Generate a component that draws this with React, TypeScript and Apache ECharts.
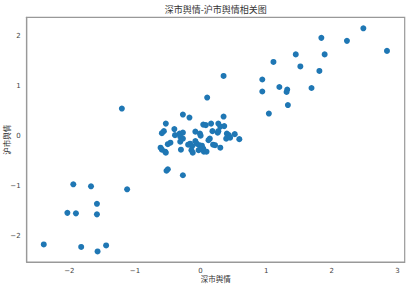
import React, { useEffect, useRef } from "react";
import * as echarts from "echarts";

const title = "深市舆情-沪市舆情相关图";
const xName = "深市舆情";
const yName = "沪市舆情";
const xTicks = [-2, -1, 0, 1, 2, 3];
const yTicks = [-2, -1, 0, 1, 2];

const lowerLeft = [
  [-1.94, -0.96], [-1.67, -1.0], [-1.12, -1.06], [-1.58, -1.35], [-2.03, -1.53],
  [-1.9, -1.54], [-1.58, -1.56], [-2.39, -2.16], [-1.82, -2.21], [-1.44, -2.18], [-1.57, -2.3],
];
const isolated = [[-1.2, 0.55], [0.35, 1.2], [0.1, 0.77]];
const upperRight = [
  [1.84, 1.96], [1.45, 1.63], [1.89, 1.63], [1.11, 1.48], [1.52, 1.39], [1.81, 1.3],
  [0.94, 1.13], [0.94, 0.89], [1.2, 0.98], [1.32, 0.93], [1.31, 0.88], [1.69, 0.96],
  [1.33, 0.62], [1.04, 0.45], [2.48, 2.15], [2.23, 1.9], [2.84, 1.7],
];
const central = [
  [-0.27, 0.43], [-0.17, 0.37], [0.35, 0.39],
  [-0.53, 0.25], [0.04, 0.23], [0.08, 0.22], [0.16, 0.25], [0.27, 0.25], [0.3, 0.19], [0.36, 0.2],
  [-0.4, 0.14], [-0.56, 0.1], [-0.59, 0.06], [-0.32, 0.05], [-0.27, 0.07], [-0.08, 0.09],
  [-0.01, 0.05], [0.0, 0.01], [0.18, 0.1], [0.26, 0.07], [0.27, 0.1], [0.4, 0.05], [0.43, 0.02], [0.52, 0.04],
  [-0.39, 0.02], [-0.31, -0.01], [-0.27, -0.05], [0.14, -0.05], [0.12, -0.08], [0.39, -0.05],
  [0.45, -0.03], [0.59, -0.06], [-0.08, -0.1],
  [-0.46, -0.13], [-0.5, -0.16], [-0.31, -0.11], [-0.16, -0.15], [-0.13, -0.2], [-0.19, -0.17],
  [-0.06, -0.15], [-0.02, -0.18], [0.02, -0.19], [0.04, -0.25], [0.19, -0.17], [0.22, -0.18], [0.3, -0.23],
  [-0.61, -0.23], [-0.59, -0.27], [-0.54, -0.31], [-0.53, -0.33], [-0.3, -0.27], [-0.14, -0.28],
  [-0.12, -0.33], [-0.03, -0.28], [0.05, -0.31], [0.09, -0.31],
  [-0.5, -0.66], [-0.52, -0.69], [-0.27, -0.78],
];

const points = [...lowerLeft, ...isolated, ...upperRight, ...central];

const fmt = (v: number) => String(v).replace("-", "\u2212");

export default function App() {
  const ref = useRef<HTMLDivElement>(null);
  useEffect(() => {
    const chart = echarts.init(ref.current!, null, { renderer: "svg" });
    const labelStyle = { fontSize: 7, color: "#444", fontFamily: "DejaVu Sans" };
    chart.setOption({
      animation: false,
      backgroundColor: "#fff",
      title: {
        text: title,
        left: 215.7,
        textAlign: "center",
        top: 5,
        padding: 0,
        textStyle: { fontSize: 9, fontWeight: "normal", color: "#333", fontFamily: "Noto Sans CJK SC" },
      },
      grid: {
        left: 26.7, right: 9.3, top: 17.3, bottom: 28,
        containLabel: false, outerBoundsMode: "none",
        show: true, borderColor: "#999", borderWidth: 1.2, backgroundColor: "#fff",
      },
      xAxis: {
        type: "value",
        min: -2.65, max: 3.11,
        name: xName, nameLocation: "middle", nameGap: 13, nameMoveOverlap: false,
        nameTextStyle: { fontSize: 7.5, color: "#333", fontFamily: "Noto Sans CJK SC" },
        axisLine: { show: true, onZero: false, lineStyle: { color: "#999", width: 1.2 } },
        axisTick: { show: false },
        splitLine: { show: false },
        axisLabel: { ...labelStyle, margin: 5, customValues: xTicks, formatter: fmt, showMinLabel: true, showMaxLabel: true },
      },
      yAxis: {
        type: "value",
        min: -2.51, max: 2.37,
        name: yName, nameLocation: "middle", nameGap: 16, nameMoveOverlap: false,
        nameTextStyle: { fontSize: 7.5, color: "#333", fontFamily: "Noto Sans CJK SC" },
        axisLine: { show: true, onZero: false, lineStyle: { color: "#999", width: 1.2 } },
        axisTick: { show: false },
        splitLine: { show: false },
        axisLabel: { ...labelStyle, margin: 6, customValues: yTicks, formatter: fmt },
      },
      series: [
        {
          type: "scatter",
          data: points,
          symbolSize: 6,
          itemStyle: { color: "#1f77b4", opacity: 1 },
        },
      ],
    });
    return () => chart.dispose();
  }, []);
  return <div ref={ref} style={{ position: "fixed", left: 0, top: 0, width: 414, height: 290 }} />;
}
